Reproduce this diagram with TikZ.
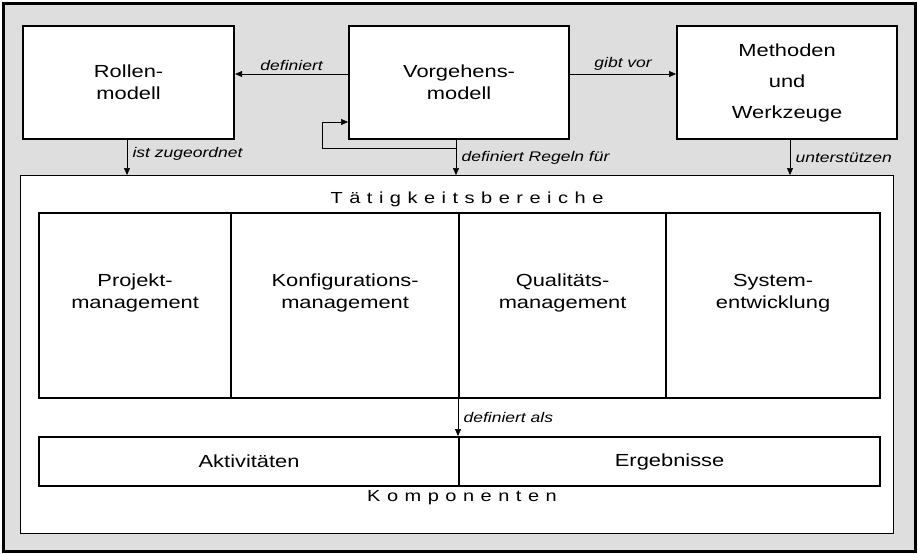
\documentclass[tikz,border=0pt]{standalone}
\usepackage{fontspec}
\setmainfont[FakeStretch=1.25]{Liberation Sans}
\usetikzlibrary{arrows.meta}
\newcommand{\gp}{\hspace{6.5pt}}
\begin{document}
\begin{tikzpicture}[x=1pt,y=-1pt,
  box/.style={draw,line width=2.2pt,fill=white},
  cell/.style={draw,line width=2.2pt,align=center,font=\fontsize{17.5}{22}\selectfont},
  arr/.style={-{Triangle[length=7pt,width=6pt]},line width=0.5pt},
  lab/.style={font=\itshape\fontsize{14}{16}\selectfont},
  sp/.style={font=\fontsize{16}{18}\selectfont}]
\useasboundingbox (0,0) rectangle (918,554);
\draw[line width=3pt,fill=black!13] (3,3) rectangle (915,551);
\draw[line width=0.5pt,fill=white] (20,175) rectangle (893,533);
\node[box,cell,minimum width=211,minimum height=113,anchor=north west] (r) at (22,25) {Rollen-\\modell};
\node[box,cell,minimum width=220,minimum height=113,anchor=north west] (v) at (348,25) {Vorgehens-\\modell};
\node[box,cell,minimum width=220,minimum height=113,anchor=north west,font=\fontsize{17.5}{31}\selectfont] (m) at (676,25) {Methoden\\und\\Werkzeuge};
\draw[arr] (v.west|-0,74) -- (r.east|-0,74) node[lab,midway,above=0pt] {definiert};
\draw[arr] (v.east|-0,74) -- (m.west|-0,74) node[lab,midway,above=0pt] {gibt vor};
\coordinate (t1) at (127,175); \coordinate (t2) at (456,175); \coordinate (t3) at (790,175);
\draw[arr] (r.south-|t1) -- (t1) node[lab,pos=0.4,right=2pt] {ist zugeordnet};
\draw[arr] (v.south-|t2) -- (t2) node[lab,pos=0.5,right=2pt] {definiert Regeln für};
\draw[arr] (m.south-|t3) -- (t3) node[lab,pos=0.5,right=2pt] {unterstützen};
\coordinate (l1) at (456,148); \coordinate (l2) at (322,148); \coordinate (l3) at (322,122);
\draw[arr] (l1) -- (l2) -- (l3) -- (l3-|v.west);
\node[sp] (tb) at (467,199) {T\gp ä\gp t\gp i\gp g\gp k\gp e\gp i\gp t\gp s\gp b\gp e\gp r\gp e\gp i\gp c\gp h\gp e};
\node[cell,minimum width=192,minimum height=185,anchor=north west] (a1) at (38,212) {Projekt-\\management\\\strut};
\node[cell,minimum width=228,minimum height=185,anchor=north west] (a2) at (230,212) {Konfigurations-\\management\\\strut};
\node[cell,minimum width=207,minimum height=185,anchor=north west] (a3) at (458,212) {Qualitäts-\\management\\\strut};
\node[cell,minimum width=214,minimum height=185,anchor=north west] (a4) at (665,212) {System-\\entwicklung\\\strut};
\node[cell,minimum width=420,minimum height=49,anchor=north west] (k1) at (38,436) {Aktivitäten};
\node[cell,minimum width=421,minimum height=49,anchor=north west] (k2) at (458,436) {Ergebnisse};
\draw[arr] (a3.south west) -- (k2.north west) node[lab,midway,right=2pt] {definiert als};
\node[sp] (ko) at (462,498) {K\gp o\gp m\gp p\gp o\gp n\gp e\gp n\gp t\gp e\gp n};
\end{tikzpicture}
\end{document}
